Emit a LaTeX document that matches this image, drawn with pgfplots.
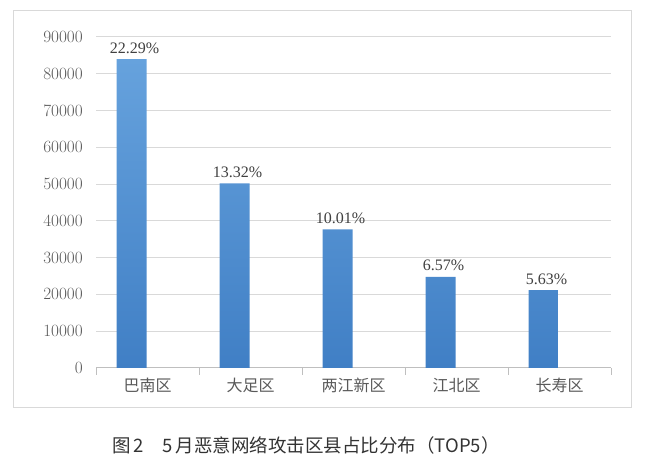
\documentclass[border=0pt]{standalone}
\usepackage{fontspec}
\setmainfont{Liberation Serif}
\newfontfamily\cjk{Noto Sans CJK SC}
\usepackage{pgfplots}
\pgfplotsset{compat=1.18}

\definecolor{barTop}{RGB}{102,162,221}
\definecolor{barBot}{RGB}{64,127,197}
\definecolor{gridc}{RGB}{217,217,217}
\definecolor{axc}{RGB}{191,191,191}
\definecolor{txt}{RGB}{89,89,89}
\definecolor{lbl}{RGB}{64,64,64}

\begin{document}
\begin{tikzpicture}
\useasboundingbox (0,0) rectangle (649bp,456bp);
\draw[gridc, line width=1bp] (13bp,48bp) rectangle (631bp,445bp);
\begin{axis}[
    at={(96bp,88bp)}, anchor=south west,
    width=515bp, height=331bp, scale only axis,
    xmin=-0.5, xmax=4.5, ymin=0, ymax=90000,
    axis lines*=left,
    y axis line style={draw=none},
    x axis line style={axc, line width=1bp},
    ytick={0,10000,...,90000},
    scaled y ticks=false,
    ymajorgrids, grid style={gridc, line width=1bp},
    major tick length=0pt,
    tick align=outside,
    yticklabel style={font=\fontsize{16bp}{16bp}\selectfont, text=txt,
        /pgf/number format/1000 sep={}, inner sep=0pt, xshift=-13bp},
    xtick={0,1,2,3,4},
    xticklabels={巴南区,大足区,两江新区,江北区,长寿区},
    xticklabel style={font=\cjk\fontsize{16bp}{16bp}\selectfont, text=txt,
        inner sep=0pt, yshift=-10bp},
    minor xtick={-0.5,0.5,1.5,2.5,3.5,4.5},
    minor tick length=7bp,
    minor x tick style={axc, line width=1bp},
    major x tick style={draw=none},
    ytick style={draw=none},
]
\addplot[ybar, bar width=30bp, bar shift=-16bp, draw=none,
    top color=barTop, bottom color=barBot,
    point meta=explicit symbolic,
    nodes near coords,
    nodes near coords style={font=\fontsize{16bp}{16bp}\selectfont, text=lbl,
        anchor=base, inner sep=0pt, yshift=6bp, xshift=-13bp}]
coordinates {
    (0,84000) [22.29\%]
    (1,50200) [13.32\%]
    (2,37700) [10.01\%]
    (3,24800) [6.57\%]
    (4,21200) [5.63\%]
};
\end{axis}
\node[anchor=west, font=\cjk\fontsize{18.5bp}{18.5bp}\selectfont, text=black!80, inner sep=0pt]
    at (112bp,11bp) {图\,2\hspace{1em}5\,月恶意网络攻击区县占比分布（TOP5）};
\end{tikzpicture}
\end{document}
